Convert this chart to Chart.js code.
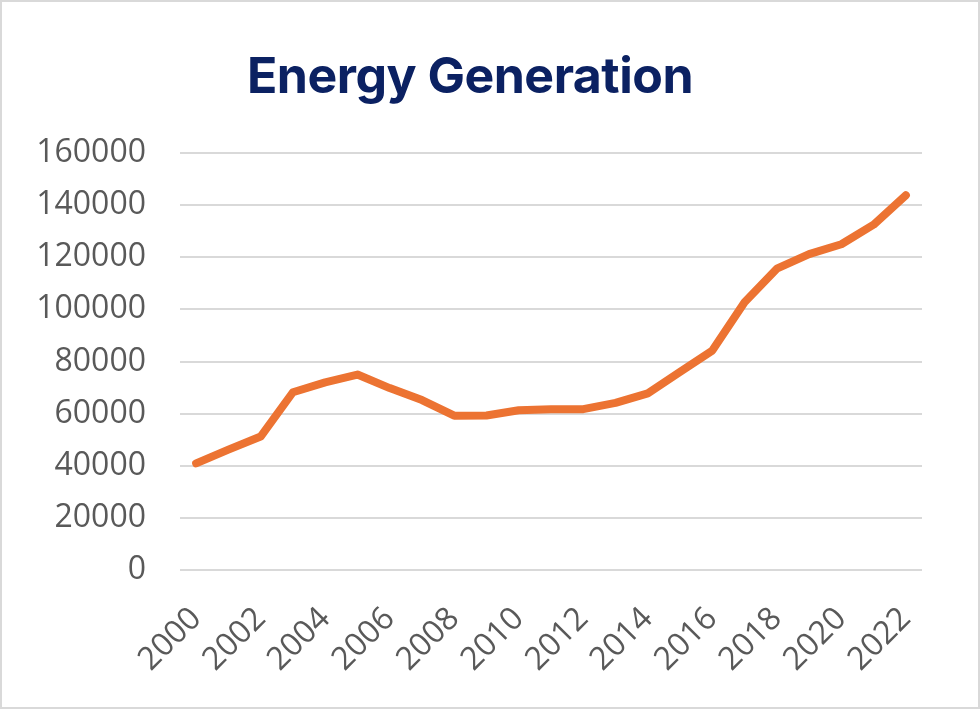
<!DOCTYPE html>
<html>
<head>
<meta charset="utf-8">
<script src="https://cdn.jsdelivr.net/npm/chart.js@4"></script>
<style>
    html, body { margin: 0; padding: 0; background: #fff; }
    #wrap { position: relative; width: 980px; height: 709px; box-sizing: border-box; border: 2px solid #d9d9d9; }
    #chartTitle {
        position: absolute; left: 0; width: 936px; top: 43px; text-align: center;
        font-family: Inter, "Liberation Sans", sans-serif; font-weight: 700; font-size: 50px;
        color: #0b2162; letter-spacing: -0.5px;
    }
    canvas { position: absolute; left: -2px; top: -2px; }
</style>
</head>
<body>
<div id="wrap">
    <div id="chartTitle">Energy Generation</div>
    <canvas id="energyChart" width="980" height="709"></canvas>
</div>
<script>
const years = ['2000', '2001', '2002', '2003', '2004', '2005', '2006', '2007', '2008', '2009', '2010', '2011',
    '2012', '2013', '2014', '2015', '2016', '2017', '2018', '2019', '2020', '2021', '2022'];
const generation = [40900, 46200, 51200, 68200, 72000, 75000, 69800, 65200, 59200, 59300, 61300, 61700,
    61700, 64100, 67800, 76000, 84200, 102700, 115600, 121200, 125000, 132500, 143800];
const yMin = 0;
const yMax = 160000;
const yStep = 20000;

const ctx = document.getElementById('energyChart');
new Chart(ctx, {
    type: 'line',
    data: {
        labels: years,
        datasets: [{
            label: 'Energy Generation',
            data: generation,
            borderColor: '#ec7332',
            borderWidth: 8,
            borderCapStyle: 'round',
            borderJoinStyle: 'round',
            pointRadius: 0,
            tension: 0,
            fill: false
        }]
    },
    options: {
        responsive: false,
        animation: false,
        layout: {
            padding: { top: 153, right: 58, bottom: 0, left: 0 }
        },
        plugins: {
            legend: { display: false },
            title: { display: false },
            tooltip: { enabled: false }
        },
        scales: {
            x: {
                offset: true,
                grid: { display: false },
                border: { display: false },
                ticks: {
                    autoSkip: false,
                    maxRotation: 45,
                    minRotation: 45,
                    padding: 22,
                    color: '#595959',
                    font: { family: '"Open Sans", sans-serif', size: 32 },
                    callback: function (value, index) {
                        return index % 2 === 0 ? years[index] : '';
                    }
                },
                afterFit: function (scale) { scale.height = 139; }
            },
            y: {
                min: yMin,
                max: yMax,
                grid: { color: '#d9d9d9', lineWidth: 2, drawTicks: false },
                border: { display: false },
                ticks: {
                    stepSize: yStep,
                    padding: 34,
                    color: '#595959',
                    font: { family: '"Open Sans", sans-serif', size: 32 },
                    callback: function (value) { return String(value); }
                },
                afterFit: function (scale) { scale.width = 180; }
            }
        }
    }
});
</script>
</body>
</html>
